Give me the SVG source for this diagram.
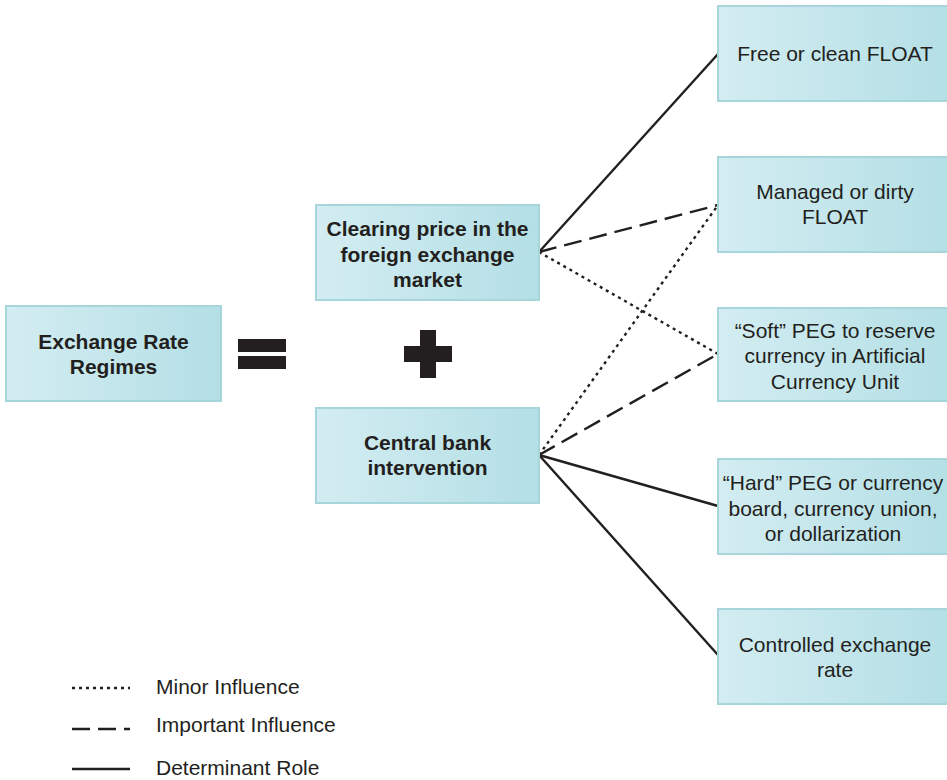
<svg xmlns="http://www.w3.org/2000/svg" width="947" height="780" viewBox="0 0 947 780">
<defs>
<linearGradient id="g" x1="0" y1="0" x2="1" y2="0">
<stop offset="0" stop-color="#d3edf2"/>
<stop offset="1" stop-color="#b3dfe5"/>
</linearGradient>
<style>
.box{fill:url(#g);stroke:#a6d5dc;stroke-width:2}
.b{font-family:"Liberation Sans",Arial,sans-serif;font-size:21px;font-weight:bold;fill:#231f20;text-anchor:middle}
.r{font-family:"Liberation Sans",Arial,sans-serif;font-size:21px;fill:#231f20;text-anchor:middle}
.l{font-family:"Liberation Sans",Arial,sans-serif;font-size:21px;fill:#231f20}
.c{stroke:#231f20;stroke-width:2.4;fill:none}
.solid{}
.dash{stroke-dasharray:18 8}
.dot{stroke-dasharray:3 4}
</style>
</defs>
<rect width="947" height="780" fill="#fff"/>
<g id="connectors">
<line class="c solid" x1="539" y1="252" x2="718" y2="54"/>
<line class="c dash" x1="539" y1="252" x2="718" y2="205"/>
<line class="c dot" x1="539" y1="252" x2="718" y2="354"/>
<line class="c dot" x1="539" y1="455" x2="718" y2="205"/>
<line class="c dash" x1="539" y1="455" x2="718" y2="354"/>
<line class="c solid" x1="539" y1="455" x2="718" y2="506"/>
<line class="c solid" x1="539" y1="455" x2="718" y2="655"/>
</g>
<g id="regimes">
<rect class="box" x="6" y="306" width="215" height="95"/>
<text class="b" x="113.5" y="349">Exchange Rate</text>
<text class="b" x="113.5" y="374">Regimes</text>
</g>
<g id="equals">
<rect x="238" y="339" width="48" height="13" fill="#231f20"/>
<rect x="238" y="356" width="48" height="13" fill="#231f20"/>
</g>
<g id="plus">
<rect x="420" y="330" width="16" height="48" fill="#231f20"/>
<rect x="404" y="346" width="48" height="16" fill="#231f20"/>
</g>
<g id="clearing">
<rect class="box" x="316" y="205" width="223" height="95"/>
<text class="b" x="427.5" y="236">Clearing price in the</text>
<text class="b" x="427.5" y="262">foreign exchange</text>
<text class="b" x="427.5" y="287">market</text>
</g>
<g id="central">
<rect class="box" x="316" y="408" width="223" height="95"/>
<text class="b" x="427.5" y="450">Central bank</text>
<text class="b" x="427.5" y="475">intervention</text>
</g>
<g id="free">
<rect class="box" x="718" y="6" width="235" height="95"/>
<text class="r" x="835" y="61">Free or clean FLOAT</text>
</g>
<g id="managed">
<rect class="box" x="718" y="157" width="235" height="95"/>
<text class="r" x="835" y="199">Managed or dirty</text>
<text class="r" x="835" y="224">FLOAT</text>
</g>
<g id="soft">
<rect class="box" x="718" y="308" width="235" height="93"/>
<text class="r" x="835" y="338">“Soft” PEG to reserve</text>
<text class="r" x="835" y="363">currency in Artificial</text>
<text class="r" x="835" y="389">Currency Unit</text>
</g>
<g id="hard">
<rect class="box" x="718" y="459" width="235" height="95"/>
<text class="r" x="833" y="490">“Hard” PEG or currency</text>
<text class="r" x="833" y="516">board, currency union,</text>
<text class="r" x="833" y="541">or dollarization</text>
</g>
<g id="controlled">
<rect class="box" x="718" y="609" width="235" height="95"/>
<text class="r" x="835" y="652">Controlled exchange</text>
<text class="r" x="835" y="677">rate</text>
</g>
<g id="legend">
<line class="c dot" x1="72" y1="688" x2="130" y2="688"/>
<text class="l" x="156" y="694">Minor Influence</text>
<line class="c dash" x1="72" y1="729" x2="130" y2="729"/>
<text class="l" x="156" y="732">Important Influence</text>
<line class="c solid" x1="72" y1="769" x2="130" y2="769"/>
<text class="l" x="156" y="775">Determinant Role</text>
</g>
</svg>
